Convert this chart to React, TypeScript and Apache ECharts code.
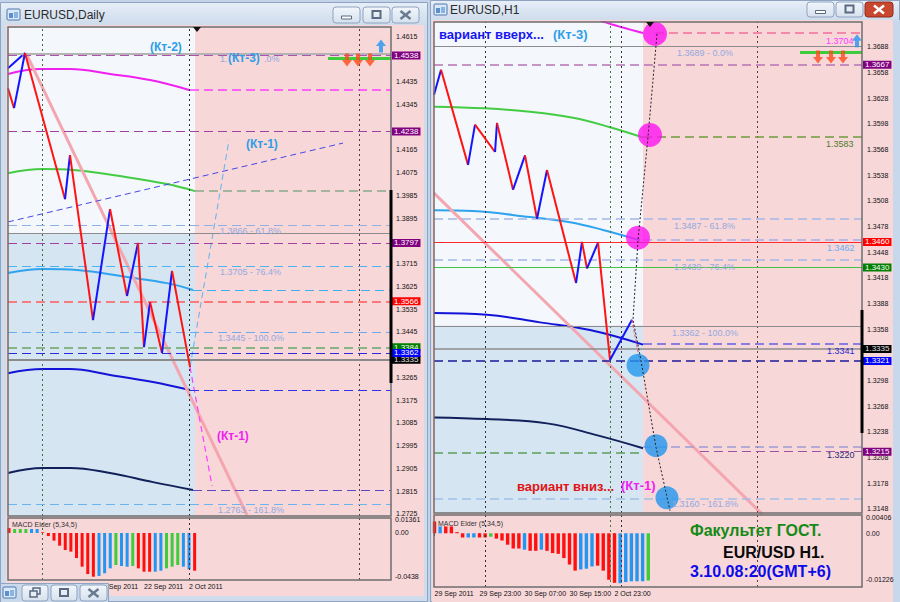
import React, { useEffect, useRef } from 'react';
import * as echarts from 'echarts';

const FF = '"Liberation Sans", Arial, sans-serif';

// ================= LEFT WINDOW: EURUSD, Daily =================
const L_X_MIN = -0.178;
const L_X_MAX = 67.91;
const L_Y_MIN = 1.2717;
const L_Y_MAX = 1.4651;
const L_Y_TICKS = [1.2725, 1.2815, 1.2905, 1.2995, 1.3085, 1.3175, 1.3265, 1.3445, 1.3535, 1.3625, 1.3715, 1.3895, 1.3985, 1.4075, 1.4165, 1.4345, 1.4435, 1.4615];
const L_TIME_TICKS = [16, 24, 32];
const L_TIME_LABELS = ['12 Sep 2011', '22 Sep 2011', '2 Oct 2011'];
const L_MACD_MIN = -0.04786;
const L_MACD_MAX = 0.01527;
const L_MACD_TICKS = [0.01361, 0, -0.0438];
const L_MACD_TICK_LABELS = ['0.01361', '0.00', '-0.0438'];

const L_ZIGZAG = [[-0.178, 1.4409], [0.89, 1.4330], [2.84, 1.4548], [9.96, 1.3970], [10.84, 1.4144], [14.93, 1.3492], [17.96, 1.3931], [20.98, 1.3587], [22.93, 1.3797], [24.0, 1.3385], [25.07, 1.3563], [27.2, 1.3362], [28.98, 1.3686], [32.18, 1.3306]];
const L_ZIG_EXTRA = [[-0.178, 1.4488], [2.84, 1.4548]];
const L_MA_MAGENTA = [[-0.178, 1.4465], [5.51, 1.4485], [10.84, 1.4485], [17.96, 1.4465], [25.07, 1.4441], [32.18, 1.4401]];
const L_MA_GREEN = [[-0.178, 1.4073], [6.04, 1.4089], [11.38, 1.4085], [20.98, 1.4057], [28.09, 1.4030], [33.07, 1.4002]];
const L_MA_CYAN = [[-0.178, 1.3678], [6.04, 1.3694], [12.09, 1.3690], [20.98, 1.3662], [28.09, 1.3638], [32.71, 1.3611]];
const L_MA_BLUE = [[-0.178, 1.3282], [6.04, 1.3298], [10.84, 1.3298], [17.96, 1.3275], [25.6, 1.3247], [32.18, 1.3215]];
const L_MA_NAVY = [[-0.178, 1.2887], [6.04, 1.2907], [10.84, 1.2907], [17.96, 1.2887], [25.6, 1.2851], [32.71, 1.2820]];
const L_TREND_PINK = [[3.02, 1.4548], [42.31, 1.2721]];
const L_FCST_DOWN = [[32.18, 1.3306], [36.09, 1.2836]];
const L_FCST_UP = [[32.18, 1.3306], [39.11, 1.4204]];
const L_CHANNEL = [[-0.178, 1.3880], [59.38, 1.4192]];
const L_ARROWS_DOWN = [[60.09, 1.4520], [62.04, 1.4520], [64.18, 1.4520]];
const L_ARROWS_UP = [[66.13, 1.4576]];
const L_SEPARATORS = [5.87, 32, 62.22];
const L_ZONE_END = 33.07;
const L_ZONE_SPLIT = 1.3836;

const L_MACD = [0.0050, 0.0041, 0.0041, 0.0041, 0.0041, 0.0041, 0.0008, -0.0031, -0.0078, -0.0129, -0.0173, -0.0190, -0.0255, -0.0343, -0.0418, -0.0445, -0.0438, -0.0410, -0.0360, -0.0326, -0.0336, -0.0343, -0.0336, -0.0360, -0.0394, -0.0394, -0.0394, -0.0384, -0.0360, -0.0343, -0.0326, -0.0343, -0.0370, -0.0384];
const L_MACD_COL = 'rgggbbrrrrrrrrrrbbbgbbgrrrbbgggbbr';

// ================= RIGHT WINDOW: EURUSD, H1 =================
const R_X_MIN = -0.09;
const R_X_MAX = 76.0;
const R_Y_MIN = 1.31433;
const R_Y_MAX = 1.37169;
const R_Y_TICKS = [1.3148, 1.3178, 1.3208, 1.3238, 1.3268, 1.3298, 1.3358, 1.3388, 1.3418, 1.3448, 1.3478, 1.3508, 1.3538, 1.3568, 1.3598, 1.3628, 1.3658, 1.3688];
const R_TIME_TICKS = [0, 8, 16, 24, 32];
const R_TIME_LABELS = ['29 Sep 2011', '29 Sep 23:00', '30 Sep 07:00', '30 Sep 15:00', '2 Oct 23:00'];
const R_MACD_MIN = -0.0141;
const R_MACD_MAX = 0.0048;
const R_MACD_TICKS = [0.00406, 0, -0.01226];
const R_MACD_TICK_LABELS = ['0.00406', '0.00', '-0.01226'];

const R_ZIGZAG = [[-0.09, 1.3632], [1.16, 1.3661], [5.96, 1.3550], [7.2, 1.3597], [10.76, 1.3565], [11.11, 1.3599], [13.96, 1.3521], [16.09, 1.3561], [18.22, 1.3487], [20, 1.3544], [25.16, 1.3412], [26.22, 1.3460], [27.11, 1.3429], [29.07, 1.3459], [31.2, 1.3322], [35.11, 1.3369]];
const R_ZIG_TAIL = [[35.11, 1.3369], [36.53, 1.3320]];
const R_MA_MAGENTA = [[27.5, 1.3725], [30.13, 1.3717], [37.07, 1.3704]];
const R_MA_GREEN = [[-0.09, 1.3618], [8.98, 1.3616], [16.98, 1.3612], [24.62, 1.3605], [31.2, 1.3594], [37.07, 1.3582]];
const R_MA_CYAN = [[-0.09, 1.3497], [6.84, 1.3496], [16.98, 1.3489], [24.09, 1.3483], [29.96, 1.3474], [36.53, 1.3462]];
const R_MA_BLUE = [[-0.09, 1.3377], [9.33, 1.3375], [18.76, 1.3366], [27.64, 1.3357], [37.07, 1.3340]];
const R_MA_NAVY = [[-0.09, 1.3255], [9.33, 1.3253], [20, 1.3248], [28.98, 1.3234], [37.07, 1.3219]];
const R_TREND_PINK = [[-0.09, 1.3517], [58.4, 1.3141]];
const R_FORECAST = [[39.56, 1.3703], [37.96, 1.3583], [36.18, 1.3462], [35.29, 1.3369], [36.53, 1.3328], [39.38, 1.3220], [41.87, 1.3146]];
const R_CIRCLES_UP = [[39.2, 1.3703], [38.31, 1.3585], [36.18, 1.3465]];
const R_CIRCLES_DOWN = [[36.18, 1.3316], [39.38, 1.3222], [41.33, 1.3161]];
const R_ARROWS_DOWN = [[68.18, 1.3676], [70.49, 1.3676], [72.62, 1.3676]];
const R_ARROWS_UP = [[75.11, 1.3695]];
const R_SEPARATORS = [8.98, 31.2, 33.16, 57.33];
const R_ZONE_END = 37.07;
const R_ZONE_SPLIT = 1.3362;

const R_MACD = [0.0031, 0.0018, 0.0018, 0.0018, 0.0003, -0.0011, -0.0011, -0.0011, -0.0011, -0.0011, -0.0009, -0.0014, -0.0019, -0.0030, -0.0040, -0.0040, -0.0043, -0.0046, -0.0046, -0.0043, -0.0046, -0.0052, -0.0054, -0.0065, -0.0082, -0.0098, -0.0095, -0.0093, -0.0087, -0.0085, -0.0098, -0.0122, -0.0130, -0.0131, -0.0128, -0.0126, -0.0126, -0.0126, -0.0124];
const R_MACD_COL = 'rbrrrrbbrrgrrrrrbrrbrrrrrrbbbrrrrbbbbbg';

// ================= styling helpers =================
const PINK_BG = '#f8d7d9';
const MACD_COLORS: Record<string, string> = { r: '#ff1010', g: '#3ccc3c', b: '#2196f3' };
const DASH = [9, 5];
const DOT = [2, 3];
const ARROW_DOWN = 'path://M3,0L7,0L7,6L10,6L5,12L0,6L3,6Z';
const ARROW_UP = 'path://M5,0L10,6L7,6L7,12L3,12L3,6L0,6Z';

const tagLabel = (text: string, bg: string, fg = '#ffffff') => ({
  show: true, position: 'end', distance: 1, formatter: text, backgroundColor: bg, color: fg,
  fontSize: 8, fontFamily: FF, padding: [0, 2, 0, 2], lineHeight: 8,
});
const NOLABEL = { show: false };
const hFull = (p: number, color: string, type: any, width = 1, label: any = NOLABEL) => ({
  yAxis: p, lineStyle: { color, type, width }, label,
});
const hSeg = (x1: number, x2: number, p: number, color: string, type: any, width = 1, label: any = NOLABEL) => ([
  { coord: [x1, p], lineStyle: { color, type, width }, label }, { coord: [x2, p] },
]);
const vLine = (x: number, color: string) => ({ xAxis: x, lineStyle: { color, type: DOT, width: 1 }, label: NOLABEL });

const zigSegments = (pts: number[][]) => {
  const out: any[] = [];
  for (let k = 0; k < pts.length - 1; k++) {
    const a = pts[k];
    const b = pts[k + 1];
    out.push({ coords: [a, b], lineStyle: { color: b[1] < a[1] ? '#ff1414' : '#1414ff' } });
  }
  return out;
};

const lineS = (ax: number, data: number[][], color: string, width: number, type: any = 'solid', smooth: any = false, z = 3) => ({
  type: 'line', xAxisIndex: ax, yAxisIndex: ax, data, symbol: 'none', smooth, z, silent: true,
  lineStyle: { color, width, type }, animation: false,
});

const T = (x: number, y: number, text: string, size: number, color: string, bold = false, z = 100) => ({
  type: 'text', x, y, z, silent: true,
  style: { text, fill: color, fontSize: size, fontWeight: bold ? 'bold' : 'normal', fontFamily: FF, align: 'left', verticalAlign: 'middle' },
});
const R = (x: number, y: number, w: number, h: number, fill: any, stroke: any = null, z = -5, lw = 1, r = 0) => ({
  type: 'rect', z, silent: true, shape: { x, y, width: w, height: h, r }, style: { fill, stroke, lineWidth: lw },
});
const Ln = (x1: number, y1: number, x2: number, y2: number, color: string, lw: number, z = 100) => ({
  type: 'line', z, silent: true, shape: { x1, y1, x2, y2 }, style: { stroke: color, lineWidth: lw },
});

const winButton = (x: number, y: number, w: number, h: number, kind: string, red = false) => {
  const els: any[] = [R(x, y, w, h, red ? '#c8472e' : { type: 'linear', x: 0, y: 0, x2: 0, y2: 1, colorStops: [{ offset: 0, color: '#f2f6fb' }, { offset: 1, color: '#d6e1ee' }] }, red ? '#8c2c1c' : '#8ea3bf', 90, 1, 3)];
  const cx = x + w / 2;
  const cy = y + h / 2;
  if (kind === 'min') els.push(R(cx - 5, cy + 1, 10, 3, '#ffffff', '#5a6a80', 91));
  if (kind === 'max') els.push(R(cx - 4, cy - 4, 8, 7, 'none', '#5a6a80', 91, 2));
  if (kind === 'rest') { els.push(R(cx - 2, cy - 5, 7, 6, 'none', '#5a6a80', 91, 1.5)); els.push(R(cx - 5, cy - 2, 7, 6, '#e8eef6', '#5a6a80', 92, 1.5)); }
  if (kind === 'close') {
    const c = red ? '#ffffff' : '#6a7a90';
    els.push(Ln(cx - 5, cy - 4, cx + 5, cy + 4, c, 2.5, 91));
    els.push(Ln(cx - 5, cy + 4, cx + 5, cy - 4, c, 2.5, 91));
  }
  return els;
};
const winIcon = (x: number, y: number) => ([
  R(x, y, 13, 11, '#dbe8f7', '#4d78ad', 90, 1, 1),
  R(x + 2, y + 4, 4, 5, '#5b8fd0', null, 91),
  R(x + 7, y + 3, 4, 6, '#89b3e3', null, 91),
]);

function buildOption() {
  const titleGrad = { type: 'linear', x: 0, y: 0, x2: 0, y2: 1, colorStops: [{ offset: 0, color: '#e6eef8' }, { offset: 1, color: '#cfdcec' }] };
  const graphic: any[] = [
    R(0, 0, 900, 602, '#c4d4e8', null, -10),
    // left window
    R(0.5, 2.5, 427, 599, '#cfdcec', '#8ea4c0', -9),
    R(1, 3, 426, 21, titleGrad, null, -8),
    R(6, 25, 418, 571, PINK_BG, null, -8),
    // right window
    R(430.5, 0.5, 469, 601, '#cfdcec', '#8ea4c0', -9),
    R(431, 1, 468, 19, titleGrad, null, -8),
    R(432, 20, 461, 582, PINK_BG, null, -8),
    R(893, 20, 7, 582, '#c8d8ec', null, -7),
    // plot frames
    R(8, 27, 383, 489, 'none', '#6e6e6e', 40, 1.5),
    R(8, 518, 383, 62, 'none', '#6e6e6e', 40, 1.5),
    R(434, 22, 428, 491, 'none', '#6e6e6e', 40, 1.5),
    R(434, 515, 428, 72, 'none', '#6e6e6e', 40, 1.5),
    Ln(391, 190, 391, 383, '#000000', 3, 41),
    Ln(862, 310, 862, 433, '#000000', 3, 41),
    { type: 'polygon', z: 41, silent: true, shape: { points: [[193, 27], [201, 27], [197, 32]] }, style: { fill: '#111' } },
    { type: 'polygon', z: 41, silent: true, shape: { points: [[646, 22], [654, 22], [650, 27]] }, style: { fill: '#111' } },
    // titles
    ...winIcon(7, 9),
    T(24, 15, 'EURUSD,Daily', 12, '#2b2b2b'),
    ...winButton(333, 7, 27, 16, 'min'),
    ...winButton(363, 7, 27, 16, 'max'),
    ...winButton(392, 7, 27, 16, 'close'),
    ...winIcon(434, 4),
    T(450, 10, 'EURUSD,H1', 12, '#2b2b2b'),
    ...winButton(807, 2, 27, 15, 'min'),
    ...winButton(836, 2, 27, 15, 'max'),
    ...winButton(865, 2, 28, 15, 'close', true),
    // MACD captions
    T(12, 524, 'MACD Elder (5,34,5)', 7, '#333333'),
    T(438, 523, 'MACD Elder (5,34,5)', 7, '#333333'),
    // left annotations
    T(150, 47, '(Кт-2)', 12, '#2f9ee8', true),
    T(220, 59, '1.', 9, '#93a9de'),
    T(228, 58, '(Кт-3)', 12, '#2f9ee8', true, 101),
    T(264, 59, '.0%', 9, '#93a9de'),
    T(246, 144, '(Кт-1)', 12, '#2f9ee8', true),
    T(220, 231, '1.3866 - 61.8%', 9, '#93a9de'),
    T(220, 272, '1.3705 - 76.4%', 9, '#93a9de'),
    T(218, 338, '1.3445 - 100.0%', 9, '#93a9de'),
    T(217, 436, '(Кт-1)', 12, '#f01ef0', true),
    T(218, 510, '1.2763 - 161.8%', 9, '#93a9de'),
    // right annotations
    T(439, 34, 'вариант вверх...', 13, '#1717f0', true),
    T(553, 34, '(Кт-3)', 13, '#2f9ee8', true),
    T(677, 53, '1.3689 - 0.0%', 9, '#93a9de'),
    T(826, 41, '1.3704', 9, '#ff3cff'),
    T(826, 144, '1.3583', 9, '#4d7d2d'),
    T(674, 226, '1.3487 - 61.8%', 9, '#93a9de'),
    T(827, 248, '1.3462', 9, '#6aaef0'),
    T(674, 267, '1.3439 - 76.4%', 9, '#93a9de'),
    T(672, 333, '1.3362 - 100.0%', 9, '#93a9de'),
    T(827, 351, '1.3341', 9, '#2828cc'),
    T(827, 455, '1.3220', 9, '#2a2a70'),
    T(517, 486, 'вариант вниз...', 13, '#e01414', true),
    T(621, 485, '(Кт-1)', 13, '#f01ef0', true),
    T(672, 504, '1.3160 - 161.8%', 9, '#93a9de'),
    T(690, 530, 'Факультет ГОСТ.', 16, '#168a16', true),
    T(723, 552, 'EUR/USD H1.', 16, '#0a0a0a', true),
    T(690, 571, '3.10.08:20(GMT+6)', 16, '#0c0ce8', true),
    // minimized window (bottom-left)
    R(0.5, 583.5, 108, 19, '#c9d8eb', '#8ea4c0', 120),
    ...winIcon(3, 587).map((e: any) => ({ ...e, z: e.z + 31 })),
    ...winButton(22, 585, 26, 16, 'rest').map((e: any) => ({ ...e, z: e.z + 31 })),
    ...winButton(51, 585, 26, 16, 'max').map((e: any) => ({ ...e, z: e.z + 31 })),
    ...winButton(80, 585, 27, 16, 'close').map((e: any) => ({ ...e, z: e.z + 31 })),
  ];

  const axisLab = { fontSize: 7, fontFamily: FF, color: '#111111' };

  const xAxis = [
    { gridIndex: 0, type: 'value', min: L_X_MIN, max: L_X_MAX, show: false },
    {
      gridIndex: 1, type: 'value', min: L_X_MIN, max: L_X_MAX, axisLine: { show: false }, splitLine: { show: false },
      axisTick: { show: true, length: 3, customValues: L_TIME_TICKS, lineStyle: { color: '#222' } },
      axisLabel: { ...axisLab, customValues: L_TIME_TICKS, align: 'left', margin: 3, formatter: (v: number) => L_TIME_LABELS[L_TIME_TICKS.indexOf(Math.round(v))] ?? '' },
    },
    { gridIndex: 2, type: 'value', min: R_X_MIN, max: R_X_MAX, show: false },
    {
      gridIndex: 3, type: 'value', min: R_X_MIN, max: R_X_MAX, axisLine: { show: false }, splitLine: { show: false },
      axisTick: { show: true, length: 3, customValues: R_TIME_TICKS, lineStyle: { color: '#222' } },
      axisLabel: { ...axisLab, customValues: R_TIME_TICKS, align: 'left', margin: 3, formatter: (v: number) => R_TIME_LABELS[R_TIME_TICKS.indexOf(Math.round(v))] ?? '' },
    },
  ];
  const yAxis = [
    {
      gridIndex: 0, type: 'value', position: 'right', min: L_Y_MIN, max: L_Y_MAX, axisLine: { show: false }, splitLine: { show: false },
      axisTick: { show: true, length: 3, customValues: L_Y_TICKS, lineStyle: { color: '#222' } },
      axisLabel: { ...axisLab, customValues: L_Y_TICKS, margin: 5, formatter: (v: number) => v.toFixed(4) },
    },
    {
      gridIndex: 1, type: 'value', position: 'right', min: L_MACD_MIN, max: L_MACD_MAX, axisLine: { show: false }, splitLine: { show: false },
      axisTick: { show: false },
      axisLabel: { ...axisLab, customValues: L_MACD_TICKS, margin: 4, formatter: (v: number) => L_MACD_TICK_LABELS[L_MACD_TICKS.findIndex((t) => Math.abs(t - v) < 1e-7)] ?? '' },
    },
    {
      gridIndex: 2, type: 'value', position: 'right', min: R_Y_MIN, max: R_Y_MAX, axisLine: { show: false }, splitLine: { show: false },
      axisTick: { show: true, length: 3, customValues: R_Y_TICKS, lineStyle: { color: '#222' } },
      axisLabel: { ...axisLab, customValues: R_Y_TICKS, margin: 5, formatter: (v: number) => v.toFixed(4) },
    },
    {
      gridIndex: 3, type: 'value', position: 'right', min: R_MACD_MIN, max: R_MACD_MAX, axisLine: { show: false }, splitLine: { show: false },
      axisTick: { show: false },
      axisLabel: { ...axisLab, customValues: R_MACD_TICKS, margin: 4, formatter: (v: number) => R_MACD_TICK_LABELS[R_MACD_TICKS.findIndex((t) => Math.abs(t - v) < 1e-7)] ?? '' },
    },
  ];

  const series: any[] = [
    // ---------- LEFT MAIN ----------
    {
      type: 'line', xAxisIndex: 0, yAxisIndex: 0, data: [[L_X_MIN, L_Y_MIN]], symbol: 'none', z: 1, silent: true, lineStyle: { width: 0 },
      markArea: {
        silent: true,
        data: [
          [{ coord: [L_X_MIN, L_Y_MAX], itemStyle: { color: '#f4f7fb' } }, { coord: [L_ZONE_END, L_ZONE_SPLIT] }],
          [{ coord: [L_X_MIN, L_ZONE_SPLIT], itemStyle: { color: '#d5e5f1' } }, { coord: [L_ZONE_END, L_Y_MIN] }],
        ],
      },
    },
    {
      type: 'line', xAxisIndex: 0, yAxisIndex: 0, data: [[L_X_MIN, L_Y_MIN]], symbol: 'none', z: 2, silent: true, lineStyle: { width: 0 },
      markLine: {
        silent: true, symbol: ['none', 'none'], precision: 4,
        data: [
          ...L_SEPARATORS.map((x, k) => vLine(x, ['#3c6e3c', '#303030', '#5a3a3a'][k])),
          hSeg(32.18, L_X_MAX, 1.4401, '#ff3cff', DASH, 1.5),
          hSeg(33.07, L_X_MAX, 1.4002, '#8aa88a', DASH, 1.5),
          hSeg(32.71, L_X_MAX, 1.3611, '#3cb0f0', DASH, 1),
          hSeg(32.18, L_X_MAX, 1.3215, '#3030f0', DASH, 1),
          hSeg(32.71, L_X_MAX, 1.2820, '#5a48c8', DASH, 1),
          hSeg(56.71, L_X_MAX, 1.4528, '#3ccc3c', 'solid', 3),
          hFull(1.4547, '#b4b4b4', 'solid', 2),
          hFull(1.3866, '#8fb0e4', DASH, 1),
          hFull(L_ZONE_SPLIT, '#8c8c8c', 'solid', 1),
          hFull(1.3705, '#4cb4f0', DASH, 1),
          hFull(1.3445, '#6aaaf0', DASH, 1),
          hFull(1.2763, '#6ab4f0', DASH, 1),
          hFull(1.4538, '#b050b0', DASH, 1, tagLabel('1.4538', '#800080')),
          hFull(1.4238, '#a040a0', DASH, 1, tagLabel('1.4238', '#800080')),
          hFull(1.3797, '#a040a0', DASH, 1, tagLabel('1.3797', '#800080')),
          hFull(1.3566, '#ff5a5a', DASH, 1.5, tagLabel('1.3566', '#ff0000')),
          hFull(1.3384, '#86b486', DASH, 2, tagLabel('1.3384', '#008000')),
          hFull(1.3335, '#8a8a8a', 'solid', 2, tagLabel('1.3335', '#000000', '#e0e0e0')),
          hFull(1.3362, '#2a2ae0', DASH, 1, tagLabel('1.3362', '#0000ff')),
        ],
      },
    },
    lineS(0, L_MA_MAGENTA, '#f020f0', 2, 'solid', 0.4),
    lineS(0, L_MA_GREEN, '#44cc44', 2, 'solid', 0.4),
    lineS(0, L_MA_CYAN, '#2ea4f0', 2, 'solid', 0.4),
    lineS(0, L_MA_BLUE, '#1414d8', 2, 'solid', 0.4),
    lineS(0, L_MA_NAVY, '#10205a', 2, 'solid', 0.4),
    lineS(0, L_TREND_PINK, '#f4a6b0', 3, 'solid', false, 3),
    lineS(0, L_CHANNEL, '#4646e6', 1, [6, 4], false, 3),
    lineS(0, L_FCST_UP, '#58b4f0', 1, [6, 4], false, 3),
    lineS(0, L_FCST_DOWN, '#ff3cff', 1.2, [6, 4], false, 3),
    lineS(0, L_ZIG_EXTRA, '#1414ff', 2, 'solid', false, 4),
    {
      type: 'lines', coordinateSystem: 'cartesian2d', xAxisIndex: 0, yAxisIndex: 0, polyline: false, z: 5, silent: true,
      lineStyle: { width: 2, opacity: 1 }, data: zigSegments(L_ZIGZAG),
    },
    {
      type: 'scatter', xAxisIndex: 0, yAxisIndex: 0, z: 6, silent: true, symbol: ARROW_DOWN, symbolSize: [10, 13],
      itemStyle: { color: '#ff4a1c' }, data: L_ARROWS_DOWN,
    },
    {
      type: 'scatter', xAxisIndex: 0, yAxisIndex: 0, z: 6, silent: true, symbol: ARROW_UP, symbolSize: [10, 13],
      itemStyle: { color: '#2296f0' }, data: L_ARROWS_UP,
    },
    // ---------- LEFT MACD ----------
    {
      type: 'bar', xAxisIndex: 1, yAxisIndex: 1, barWidth: 3, z: 3, silent: true,
      data: L_MACD.map((v, i) => ({ value: [i, v], itemStyle: { color: MACD_COLORS[L_MACD_COL[i]] } })),
      markLine: { silent: true, symbol: ['none', 'none'], data: L_SEPARATORS.map((x, k) => vLine(x, ['#3c6e3c', '#303030', '#5a3a3a'][k])) },
    },
    // ---------- RIGHT MAIN ----------
    {
      type: 'line', xAxisIndex: 2, yAxisIndex: 2, data: [[R_X_MIN, R_Y_MIN]], symbol: 'none', z: 1, silent: true, lineStyle: { width: 0 },
      markArea: {
        silent: true,
        data: [
          [{ coord: [R_X_MIN, R_Y_MAX], itemStyle: { color: '#f4f7fb' } }, { coord: [R_ZONE_END, R_ZONE_SPLIT] }],
          [{ coord: [R_X_MIN, R_ZONE_SPLIT], itemStyle: { color: '#d5e5f1' } }, { coord: [R_ZONE_END, R_Y_MIN] }],
        ],
      },
    },
    {
      type: 'line', xAxisIndex: 2, yAxisIndex: 2, data: [[R_X_MIN, R_Y_MIN]], symbol: 'none', z: 2, silent: true, lineStyle: { width: 0 },
      markLine: {
        silent: true, symbol: ['none', 'none'], precision: 4,
        data: [
          ...R_SEPARATORS.map((x, k) => vLine(x, ['#303030', '#3c7a3c', '#303030', '#5a3a3a'][k])),
          hSeg(39.2, R_X_MAX, 1.3704, '#f488a8', DASH, 2),
          hSeg(64.98, R_X_MAX, 1.3681, '#3ccc3c', 'solid', 3),
          hSeg(37.07, R_X_MAX, 1.3583, '#6e9a3c', DASH, 1.5),
          hSeg(37.07, R_X_MAX, 1.3463, '#a4aee8', DASH, 1.5),
          hSeg(37.07, R_X_MAX, 1.3341, '#6262e2', DASH, 1.5),
          hSeg(37.07, R_X_MAX, 1.3221, '#9c9cd4', DASH, 1.5),
          hSeg(R_X_MIN, 37.07, 1.3214, '#5aa05a', DASH, 1.5),
          hFull(1.3689, '#8c8c8c', 'solid', 1),
          hFull(1.3487, '#a2b8e8', DASH, 1.5),
          hFull(1.3439, '#a2b8e8', DASH, 1.5),
          hFull(1.3362, '#8c8c8c', 'solid', 1),
          hFull(1.3160, '#a2c0e8', DASH, 1.5),
          hFull(1.3667, '#b474b4', DASH, 1.5, tagLabel('1.3667', '#800080')),
          hFull(1.3460, '#ff2a2a', 'solid', 1, tagLabel('1.3460', '#ff0000')),
          hFull(1.3430, '#44c444', 'solid', 1, tagLabel('1.3430', '#008000')),
          hFull(1.3335, '#8c8c8c', 'solid', 1.5, tagLabel('1.3335', '#000000', '#e0e0e0')),
          hFull(1.3321, '#1a1a9a', DASH, 1.5, tagLabel('1.3321', '#0000ff')),
          hSeg(47.2, R_X_MAX, 1.3215, '#a050a0', DASH, 1, tagLabel('1.3215', '#800080')),
        ],
      },
    },
    lineS(2, R_MA_MAGENTA, '#f020f0', 2, 'solid', 0.3),
    lineS(2, R_MA_GREEN, '#44cc44', 2, 'solid', 0.4),
    lineS(2, R_MA_CYAN, '#2ea4f0', 2, 'solid', 0.4),
    lineS(2, R_MA_BLUE, '#1414d8', 2, 'solid', 0.4),
    lineS(2, R_MA_NAVY, '#10205a', 2, 'solid', 0.4),
    lineS(2, R_TREND_PINK, '#f4a6b0', 3, 'solid', false, 3),
    {
      type: 'lines', coordinateSystem: 'cartesian2d', xAxisIndex: 2, yAxisIndex: 2, polyline: false, z: 5, silent: true,
      lineStyle: { width: 2, opacity: 1 }, data: zigSegments(R_ZIGZAG),
    },
    lineS(2, R_ZIG_TAIL, '#e05a84', 1.2, [3, 2], false, 5),
    {
      type: 'scatter', xAxisIndex: 2, yAxisIndex: 2, z: 6, silent: true, symbol: 'circle', symbolSize: 24,
      itemStyle: { color: '#ff14f0' }, data: R_CIRCLES_UP,
    },
    {
      type: 'scatter', xAxisIndex: 2, yAxisIndex: 2, z: 6, silent: true, symbol: 'circle', symbolSize: 23,
      itemStyle: { color: '#2296ee' }, data: R_CIRCLES_DOWN,
    },
    lineS(2, R_FORECAST, '#222222', 1, [2, 2], false, 7),
    {
      type: 'scatter', xAxisIndex: 2, yAxisIndex: 2, z: 6, silent: true, symbol: ARROW_DOWN, symbolSize: [10, 13],
      itemStyle: { color: '#ff4a1c' }, data: R_ARROWS_DOWN,
    },
    {
      type: 'scatter', xAxisIndex: 2, yAxisIndex: 2, z: 6, silent: true, symbol: ARROW_UP, symbolSize: [10, 13],
      itemStyle: { color: '#2296f0' }, data: R_ARROWS_UP,
    },
    // ---------- RIGHT MACD ----------
    {
      type: 'bar', xAxisIndex: 3, yAxisIndex: 3, barWidth: 3.4, z: 3, silent: true,
      data: R_MACD.map((v, i) => ({ value: [i, v], itemStyle: { color: MACD_COLORS[R_MACD_COL[i]] } })),
      markLine: { silent: true, symbol: ['none', 'none'], data: R_SEPARATORS.map((x, k) => vLine(x, ['#303030', '#3c7a3c', '#303030', '#5a3a3a'][k])) },
    },
  ];

  return {
    animation: false,
    backgroundColor: '#c4d4e8',
    grid: [
      { left: 8, top: 27, width: 383, height: 489, containLabel: false },
      { left: 8, top: 518, width: 383, height: 62, containLabel: false },
      { left: 434, top: 22, width: 428, height: 491, containLabel: false },
      { left: 434, top: 515, width: 428, height: 72, containLabel: false },
    ],
    xAxis, yAxis, series, graphic,
  };
}

export default function App() {
  const ref = useRef<HTMLDivElement>(null);
  useEffect(() => {
    if (!ref.current) return;
    const chart = echarts.init(ref.current, undefined, { renderer: 'svg' });
    chart.setOption(buildOption() as any);
    return () => chart.dispose();
  }, []);
  return <div ref={ref} style={{ position: 'fixed', left: 0, top: 0, width: 900, height: 602 }} />;
}
